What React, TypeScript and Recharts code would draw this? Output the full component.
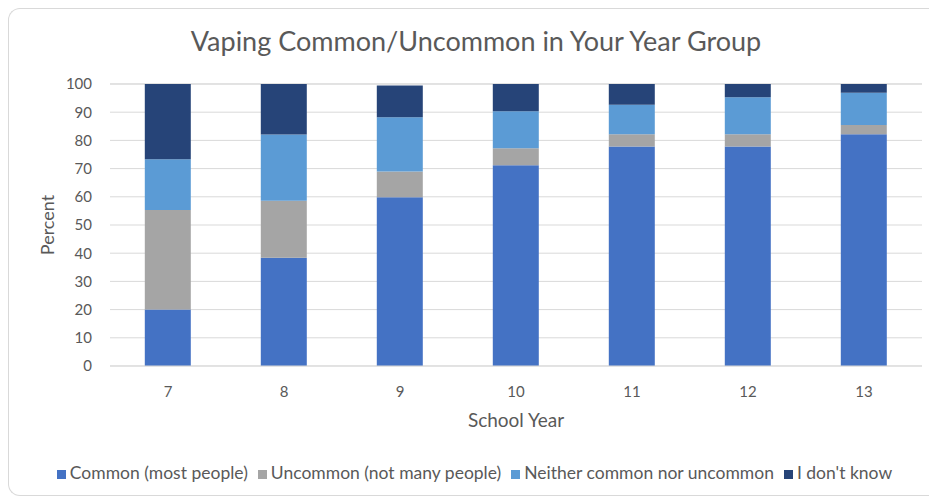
import React from 'react';
import { BarChart, Bar, XAxis, YAxis, CartesianGrid, Legend } from 'recharts';

const years = ['7', '8', '9', '10', '11', '12', '13'];
const common = [20.0, 38.4, 59.8, 71.2, 77.8, 77.8, 82.2];
const uncommon = [35.3, 20.2, 9.2, 6.0, 4.4, 4.4, 3.3];
const neither = [18.0, 23.5, 19.2, 13.1, 10.4, 13.1, 11.4];
const dontKnow = [26.7, 17.9, 11.3, 9.7, 7.4, 4.7, 3.1];
const yTicks = [0, 10, 20, 30, 40, 50, 60, 70, 80, 90, 100];

const seriesNames = [
  'Common (most people)',
  'Uncommon (not many people)',
  'Neither common nor uncommon',
  "I don't know",
];

const data = years.map((y, i) => ({
  year: y,
  common: common[i],
  uncommon: uncommon[i],
  neither: neither[i],
  dontKnow: dontKnow[i],
}));

const FONT = 'Lato, "Open Sans", sans-serif';
const TXT = '#595959';

export default function App() {
  return (
    <div
      style={{
        position: 'absolute',
        left: 8,
        top: 8,
        width: 921,
        height: 489,
        overflow: 'hidden',
        fontFamily: FONT,
      }}
    >
      <div
        style={{
          position: 'absolute',
          left: 0,
          top: 0,
          width: 960,
          height: 486,
          borderTop: '1px solid #d9d9d9',
          borderLeft: '1px solid #d9d9d9',
          borderBottom: '1px solid #d9d9d9',
          borderRight: 'none',
          borderRadius: '12px 0 0 12px',
          boxSizing: 'content-box',
        }}
      />
      <div
        style={{
          position: 'absolute',
          left: 0,
          width: 936,
          top: 17,
          textAlign: 'center',
          fontSize: 27,
          color: TXT,
          lineHeight: '32px',
          fontFamily: FONT,
        }}
      >
        Vaping Common/Uncommon in Your Year Group
      </div>
      <div style={{ position: 'absolute', left: 0, top: 0 }}>
        <BarChart
          width={921}
          height={489}
          data={data}
          margin={{ top: 76, right: 7, left: 0, bottom: 14 }}
          barCategoryGap="30%"
        >
          <CartesianGrid vertical={false} stroke="#d9d9d9" strokeWidth={1} />
          <XAxis
            dataKey="year"
            height={97}
            tickLine={false}
            axisLine={{ stroke: '#d9d9d9' }}
            tick={{ fill: TXT, fontSize: 15, fontFamily: FONT }}
            tickMargin={14}
            label={{
              value: 'School Year',
              position: 'insideTop',
              offset: 48,
              fill: TXT,
              fontSize: 19,
              fontFamily: FONT,
            }}
          />
          <YAxis
            width={102}
            domain={[0, 100]}
            ticks={yTicks}
            interval={0}
            tickLine={false}
            axisLine={false}
            tick={{ fill: TXT, fontSize: 15, fontFamily: FONT }}
            tickMargin={12}
            label={{
              content: (props: any) => {
                const vb = props.viewBox || {};
                const cx = (vb.x || 0) + 39;
                const cy = (vb.y || 0) + (vb.height || 0) / 2;
                return (
                  <text
                    x={cx}
                    y={cy}
                    transform={`rotate(-90 ${cx} ${cy})`}
                    textAnchor="middle"
                    dominantBaseline="central"
                    fill={TXT}
                    fontSize={18}
                    fontFamily={FONT}
                  >
                    Percent
                  </text>
                );
              },
            }}
          />
          <Legend
            verticalAlign="bottom"
            iconType="square"
            iconSize={9}
            itemSorter={(item: any) => seriesNames.indexOf(item.value)}
            wrapperStyle={{
              fontSize: 17.5,
              fontFamily: FONT,
              height: 20,
              lineHeight: '20px',
              left: 11,
              width: 921,
            }}
            formatter={(value: string) => <span style={{ color: TXT }}>{value}</span>}
          />
          <Bar dataKey="common" name={seriesNames[0]} stackId="a" fill="#4472C4" isAnimationActive={false} />
          <Bar dataKey="uncommon" name={seriesNames[1]} stackId="a" fill="#A5A5A5" isAnimationActive={false} />
          <Bar dataKey="neither" name={seriesNames[2]} stackId="a" fill="#5B9BD5" isAnimationActive={false} />
          <Bar dataKey="dontKnow" name={seriesNames[3]} stackId="a" fill="#264478" isAnimationActive={false} />
        </BarChart>
      </div>
    </div>
  );
}
